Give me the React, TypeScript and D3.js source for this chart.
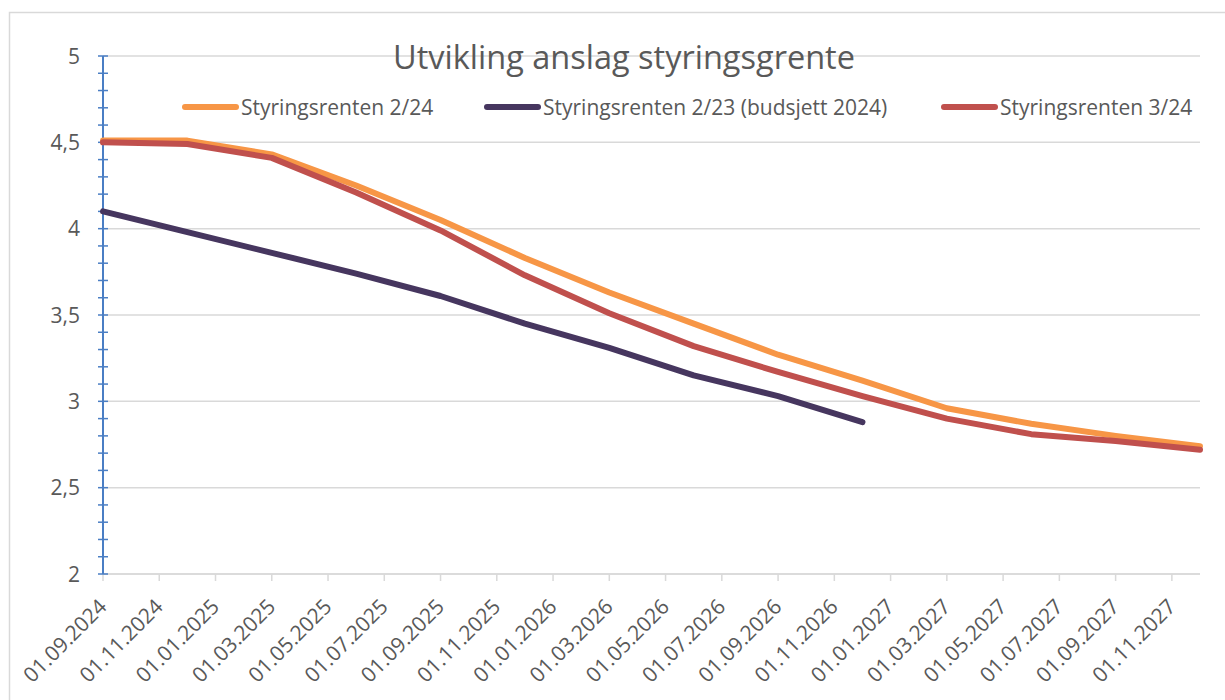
import React from 'react'
import * as d3 from 'd3'

// kvartalsvise anslag (Norges Bank), lest av figuren
const quarters = ['2024-09-01', '2024-12-01', '2025-03-01', '2025-06-01', '2025-09-01', '2025-12-01', '2026-03-01', '2026-06-01', '2026-09-01', '2026-12-01', '2027-03-01', '2027-06-01', '2027-09-01', '2027-12-01']
const rente224 = [4.51, 4.51, 4.43, 4.25, 4.05, 3.83, 3.63, 3.45, 3.27, 3.12, 2.96, 2.87, 2.80, 2.74]
const rente223 = [4.10, 3.98, 3.86, 3.74, 3.61, 3.45, 3.31, 3.15, 3.03, 2.88]
const rente324 = [4.50, 4.49, 4.41, 4.21, 3.99, 3.73, 3.51, 3.32, 3.17, 3.03, 2.90, 2.81, 2.77, 2.72]

const seriesNames = ['Styringsrenten 2/24', 'Styringsrenten 2/23 (budsjett 2024)', 'Styringsrenten 3/24']
const seriesColors = ['#F79646', '#46365F', '#C0504D']

const xTickLabels = ['01.09.2024', '01.11.2024', '01.01.2025', '01.03.2025', '01.05.2025', '01.07.2025', '01.09.2025', '01.11.2025', '01.01.2026', '01.03.2026', '01.05.2026', '01.07.2026', '01.09.2026', '01.11.2026', '01.01.2027', '01.03.2027', '01.05.2027', '01.07.2027', '01.09.2027', '01.11.2027']
const yTicks = [2, 2.5, 3, 3.5, 4, 4.5, 5]

const width = 1225
const height = 700
const font = "'Open Sans', sans-serif"
const textColor = '#595959'
const gridColor = '#D9D9D9'

// Excel-datoakse med måned som enhet: hver måned like bred
const monthIndex = (s: string) => {
  const p = s.split(/[-.]/).map(Number)
  const [y, m] = p[0] > 31 ? [p[0], p[1]] : [p[2], p[1]]
  return (y - 2024) * 12 + (m - 9)
}

export default function App() {
  const stageRef = React.useRef<SVGSVGElement>(null)

  React.useEffect(() => {
    const svg = d3.select(stageRef.current)
    svg.selectAll('*').remove()

    const left = 103, right = 1200, top = 56, bottom = 574

    const x = d3.scaleLinear().domain([0, 39]).range([left, right])
    const y = d3.scaleLinear().domain([2, 5]).range([bottom, top])

    // ramme
    svg.append('rect')
      .attr('x', 9.5).attr('y', 12.5)
      .attr('width', 1240).attr('height', 720)
      .attr('fill', '#fff').attr('stroke', gridColor).attr('stroke-width', 1.5)

    // horisontale rutenettlinjer
    svg.append('g')
      .selectAll('line')
      .data(yTicks)
      .enter()
        .append('line')
        .attr('x1', left).attr('x2', right)
        .attr('y1', d => y(d)).attr('y2', d => y(d))
        .attr('stroke', gridColor).attr('stroke-width', 1.5)

    // tittel
    svg.append('text')
      .attr('x', 624).attr('y', 69)
      .attr('text-anchor', 'middle')
      .style('font-family', font)
      .style('font-size', '32.5px')
      .attr('fill', textColor)
      .text('Utvikling anslag styringsgrente')

    // x-akse
    const xAxis = svg.append('g')
    xAxis.append('line')
      .attr('x1', left).attr('x2', right)
      .attr('y1', bottom).attr('y2', bottom)
      .attr('stroke', gridColor).attr('stroke-width', 1.5)
    const xt = xAxis.selectAll('g.tick')
      .data(xTickLabels)
      .enter()
        .append('g')
        .attr('class', 'tick')
        .attr('transform', d => `translate(${x(monthIndex(d))},0)`)
    xt.append('line')
      .attr('y1', bottom).attr('y2', bottom + 7)
      .attr('stroke', gridColor).attr('stroke-width', 1.5)
    xt.append('text')
      .attr('transform', `translate(5,${bottom + 34}) rotate(-45)`)
      .attr('text-anchor', 'end')
      .style('font-family', font)
      .style('font-size', '21px')
      .attr('fill', textColor)
      .text(d => d)

    // y-akse
    const yAxis = svg.append('g')
    yAxis.selectAll('text')
      .data(yTicks)
      .enter()
        .append('text')
        .attr('x', 80).attr('y', d => y(d))
        .attr('dy', '0.36em')
        .attr('text-anchor', 'end')
        .style('font-family', font)
        .style('font-size', '21px')
        .attr('fill', textColor)
        .text(d => String(d).replace('.', ','))
    yAxis.selectAll('line.minor')
      .data(d3.range(0, 31).map(i => 2 + i * 0.1))
      .enter()
        .append('line')
        .attr('class', 'minor')
        .attr('x1', left - 5).attr('x2', left + 5)
        .attr('y1', d => y(d)).attr('y2', d => y(d))
        .attr('stroke', '#4A7EC4').attr('stroke-width', 1.5)
    yAxis.append('line')
      .attr('x1', left).attr('x2', left)
      .attr('y1', top).attr('y2', bottom)
      .attr('stroke', '#4A7EC4').attr('stroke-width', 2)

    // linjer
    const series = [rente224, rente223, rente324]
    const line = d3.line<number>()
      .x((d, i) => x(monthIndex(quarters[i])))
      .y(d => y(d))
    series.forEach((s, k) => {
      svg.append('path')
        .datum(s)
        .attr('d', line)
        .attr('fill', 'none')
        .attr('stroke', seriesColors[k])
        .attr('stroke-width', 6)
        .attr('stroke-linejoin', 'round')
        .attr('stroke-linecap', 'round')
    })

    // forklaring
    const legendX = [183, 485, 942]
    const lg = svg.append('g')
      .selectAll('g')
      .data(seriesNames)
      .enter()
        .append('g')
        .attr('transform', (d, i) => `translate(${legendX[i]},107)`)
    lg.append('line')
      .attr('x1', 2).attr('x2', 53)
      .attr('stroke', (d, i) => seriesColors[i])
      .attr('stroke-width', 6)
      .attr('stroke-linecap', 'round')
    lg.append('text')
      .attr('x', 58).attr('y', 7.5)
      .style('font-family', font)
      .style('font-size', '21px')
      .attr('fill', textColor)
      .text(d => d)
  }, [])

  return (
    <div style={{ position: 'absolute', left: 0, top: 0 }}>
      <svg width={width} height={height} ref={stageRef} style={{ display: 'block' }}></svg>
    </div>
  )
}
